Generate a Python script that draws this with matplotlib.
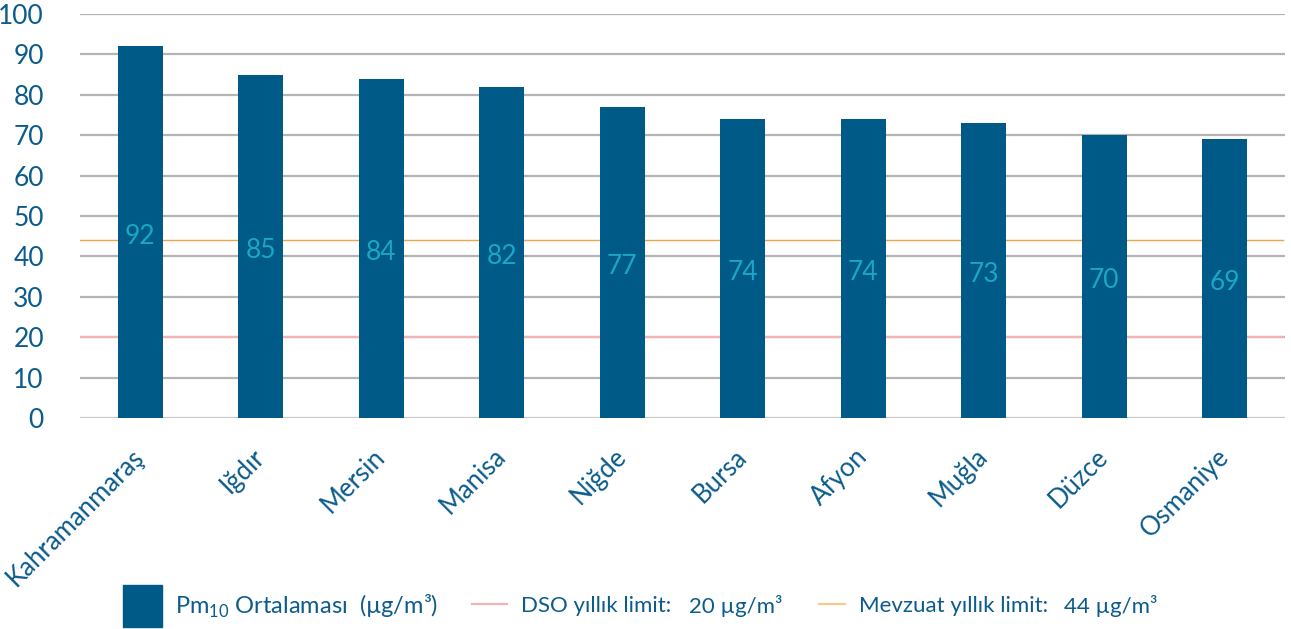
import matplotlib
matplotlib.use('Agg')
import matplotlib.pyplot as plt
from matplotlib.patches import Rectangle
from matplotlib.lines import Line2D
import numpy as np

# PM10 annual averages, most polluted provinces
cities = ['Kahramanmaraş', 'Iğdır', 'Mersin', 'Manisa', 'Niğde',
          'Bursa', 'Afyon', 'Muğla', 'Düzce', 'Osmaniye']
pm10 = [92, 85, 84, 82, 77, 74, 74, 73, 70, 69]
dso_limit = 20
mevzuat_limit = 44
yticks = [0, 10, 20, 30, 40, 50, 60, 70, 80, 90, 100]

bar_col = '#005a87'
txt_col = '#0b5b8c'
lbl_col = '#1aa7c6'
red_col = '#f4b3b3'
orange_col = '#f2a24a'

plt.rcParams['font.family'] = ['Lato', 'DejaVu Sans']
plt.rcParams['mathtext.fontset'] = 'custom'
plt.rcParams['mathtext.rm'] = 'Lato'

W, H = 1291, 629
fig = plt.figure(figsize=(W / 100, H / 100), dpi=100)
ax = fig.add_axes([80 / W, 1 - 418 / H, (1285 - 80) / W, (418 - 14) / H])

x = np.arange(len(cities))
ax.set_xlim(-0.5, len(cities) - 0.5)
ax.set_ylim(0, 100)

# gridlines
for t in yticks:
    ax.axhline(t, color='#b4b4b4' if t else '#c8c8c8', lw=1.6, zorder=0)

ax.axhline(dso_limit, color=red_col, lw=1.6, zorder=1, xmax=0.998)
ax.axhline(mevzuat_limit, color=orange_col, lw=1.0, zorder=1, xmax=0.998)

ax.bar(x, pm10, width=0.37, color=bar_col, zorder=2)
for xi, v in zip(x, pm10):
    ax.annotate(str(v), (xi, v / 2), xytext=(0, -3), textcoords='offset points',
                ha='center', va='center', color=lbl_col, fontsize=19, zorder=3)

for s in ax.spines.values():
    s.set_visible(False)
ax.set_yticks(yticks)
ax.set_yticklabels([str(t) for t in yticks])
ax.tick_params(axis='y', length=0, pad=26, labelsize=19, labelcolor=txt_col)
ax.set_xticks(x)
ax.set_xticklabels(cities, rotation=45, ha='right', va='center',
                   rotation_mode='anchor')
ax.tick_params(axis='x', length=0, pad=25, labelsize=18.5, labelcolor=txt_col)

# legend row, laid out left to right from measured text widths
renderer = fig.canvas.get_renderer()
ly = 1 - 606 / H
cur = [123]


def add_text(s, gap, fs=16):
    t = fig.text(cur[0] / W, ly, s, color=txt_col, fontsize=fs, va='center')
    cur[0] += t.get_window_extent(renderer).width + gap


def add_line(color, length, gap):
    fig.lines.append(Line2D([cur[0] / W, (cur[0] + length) / W],
                            [1 - 604 / H] * 2, color=color, lw=1.6,
                            transform=fig.transFigure))
    cur[0] += length + gap


fig.patches.append(Rectangle((123 / W, 1 - 627 / H), 39 / W, 42 / H,
                             color=bar_col, transform=fig.transFigure,
                             figure=fig))
cur[0] = 123 + 39 + 13
add_text(r'Pm$_{10}$ Ortalaması  (µg/m³)', 34, fs=17)
add_line(red_col, 35, 14)
add_text('DSO yıllık limit:', 18)
add_text('20 µg/m³', 36)
add_line('#f7c98a', 26, 14)
add_text('Mevzuat yıllık limit:', 16)
add_text('44 µg/m³', 0)

fig.savefig('out.png', dpi=100)
